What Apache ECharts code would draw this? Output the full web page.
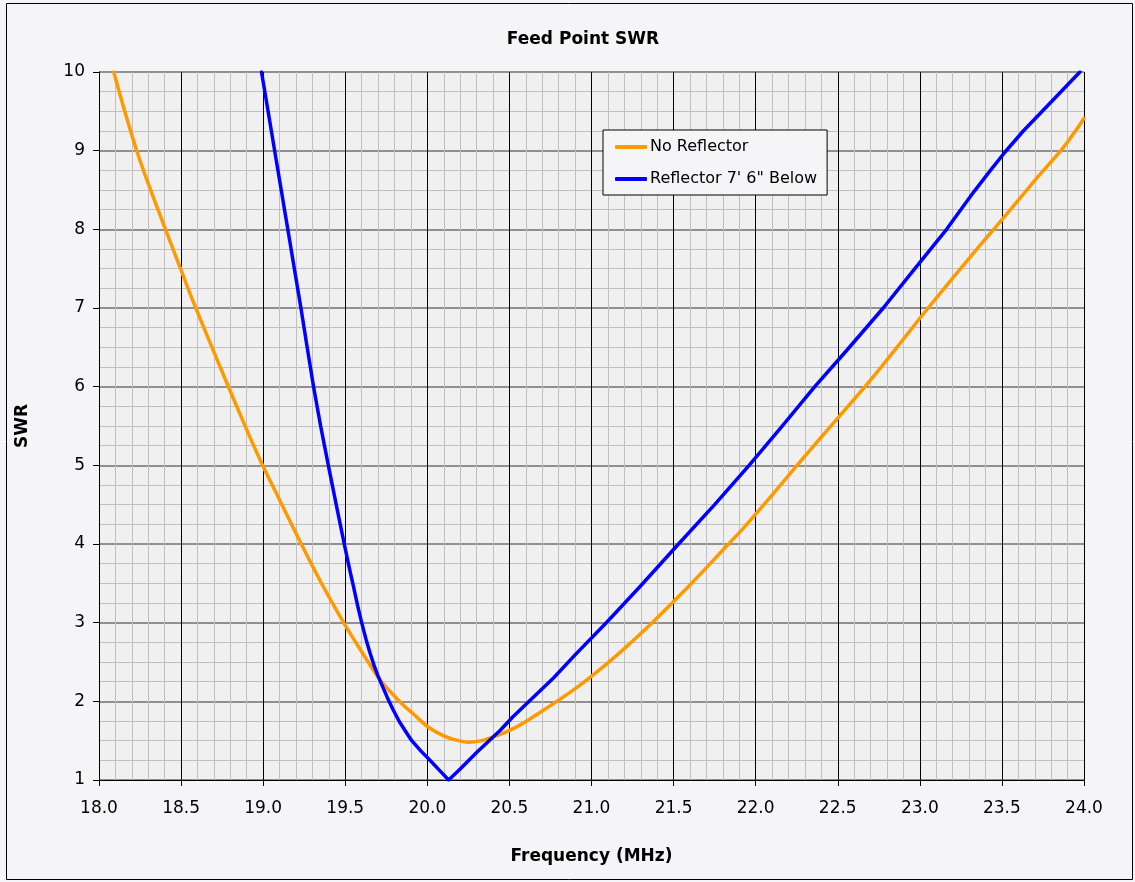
<!DOCTYPE html>
<html>
<head>
<meta charset="utf-8">
<script src="https://cdn.jsdelivr.net/npm/echarts@6/dist/echarts.min.js"></script>
<style>
html,body{margin:0;padding:0;background:#F5F5F7;}
#c{width:1135px;height:882px;}
</style>
</head>
<body>
<div id="c"></div>
<script>
const seriesNames = ['No Reflector', 'Reflector 7\' 6" Below'];
const xTicks = { min: 18, max: 24, step: 0.5 };
const yTicks = { min: 1, max: 10, step: 1 };

const noReflector = [
  [18.09,10.0],[18.15,9.55],[18.23,9.0],[18.3,8.58],[18.41,7.97],[18.5,7.48],[18.57,7.1],
  [18.68,6.54],[18.78,6.04],[18.9,5.45],[18.99,5.03],[19.1,4.56],[19.22,4.05],[19.35,3.52],
  [19.49,3.0],[19.6,2.63],[19.72,2.25],[19.84,1.98],[19.92,1.83],[20.0,1.68],[20.1,1.56],
  [20.17,1.51],[20.25,1.48],[20.33,1.5],[20.42,1.56],[20.52,1.65],[20.62,1.77],[20.76,1.96],
  [20.88,2.13],[20.97,2.27],[21.1,2.49],[21.2,2.67],[21.36,2.98],[21.5,3.27],[21.6,3.48],[21.7,3.7],
  [21.83,3.99],[21.92,4.19],[22.0,4.38],[22.1,4.62],[22.24,4.97],[22.4,5.36],[22.5,5.6],
  [22.67,6.01],[22.8,6.34],[23.0,6.87],[23.2,7.38],[23.36,7.78],[23.45,8.0],
  [23.6,8.37],[23.72,8.67],[23.87,9.03],[24.0,9.41]
];
const withReflector = [
  [18.99,10.0],[19.03,9.5],[19.07,9.0],[19.11,8.5],[19.15,8.0],[19.19,7.5],[19.23,7.0],
  [19.268,6.5],[19.307,6.0],[19.35,5.5],[19.397,5.0],[19.445,4.5],[19.494,4.0],[19.52,3.74],
  [19.55,3.46],[19.575,3.22],[19.6,3.0],[19.625,2.8],[19.65,2.62],[19.675,2.46],[19.7,2.32],
  [19.725,2.2],[19.756,2.05],[19.79,1.9],[19.83,1.74],[19.87,1.61],[19.905,1.5],[19.96,1.37],
  [20.016,1.25],[20.08,1.11],[20.13,1.0],[20.2,1.14],[20.3,1.35],[20.443,1.63],[20.52,1.8],
  [20.62,2.0],[20.77,2.3],[20.9,2.59],[21.09,3.0],[21.3,3.47],[21.53,4.0],[21.75,4.5],
  [21.96,5.0],[22.15,5.47],[22.36,6.0],[22.55,6.45],[22.777,7.0],[22.95,7.45],[23.163,8.0],
  [23.33,8.48],[23.43,8.75],[23.518,8.98],[23.63,9.25],[23.75,9.51],[23.975,10.0]
];

const FONT = 'DejaVu Sans, Verdana, sans-serif';
const chart = echarts.init(document.getElementById('c'));
chart.setOption({
  backgroundColor: '#F5F5F7',
  animation: false,
  title: {
    text: 'Feed Point SWR',
    left: 578, top: 26, textAlign: 'center',
    textStyle: { fontFamily: FONT, fontSize: 17, fontWeight: 'bold', color: '#000' }
  },
  graphic: [{
    type: 'rect', silent: true,
    shape: { x: 6.5, y: 3.5, width: 1126, height: 876 },
    style: { fill: 'none', stroke: '#000', lineWidth: 1 }
  }],
  legend: {
    orient: 'vertical', left: 603, top: 130,
    padding: [9, 10, 8, 12], itemGap: 16, itemWidth: 32, itemHeight: 4,
    icon: 'roundRect',
    backgroundColor: '#F5F5F7', borderColor: '#000', borderWidth: 1,
    textStyle: { fontFamily: FONT, fontSize: 16, color: '#000', padding: [0, 0, 0, -2] },
    data: seriesNames
  },
  grid: { left: 99, right: 51, top: 72, bottom: 102, show: true, backgroundColor: '#F0F0F0', borderWidth: 0 },
  xAxis: {
    type: 'value', min: xTicks.min, max: xTicks.max, interval: xTicks.step,
    name: 'Frequency (MHz)', nameLocation: 'middle', nameGap: 68,
    nameTextStyle: { fontFamily: FONT, fontSize: 17, fontWeight: 'bold', color: '#000' },
    axisLine: { show: true, lineStyle: { color: '#000', width: 1 } },
    axisTick: { show: true, length: 6, lineStyle: { color: '#000' } },
    axisLabel: { fontFamily: FONT, fontSize: 17, color: '#000', margin: 20, formatter: v => v.toFixed(1) },
    splitLine: { show: true, lineStyle: { color: '#000', width: 1 } },
    minorSplitLine: { show: true, lineStyle: { color: '#C0C0C0', width: 1 } },
    minorTick: { show: false, splitNumber: 5 }
  },
  yAxis: {
    type: 'value', min: yTicks.min, max: yTicks.max, interval: yTicks.step,
    name: 'SWR', nameLocation: 'middle', nameGap: 68, nameRotate: 90,
    nameTextStyle: { fontFamily: FONT, fontSize: 17, fontWeight: 'bold', color: '#000' },
    axisLine: { show: true, lineStyle: { color: '#000', width: 1 } },
    axisTick: { show: true, length: 6, lineStyle: { color: '#000' } },
    axisLabel: { fontFamily: FONT, fontSize: 17, color: '#000', margin: 14 },
    splitLine: { show: true, lineStyle: { color: '#707070', width: 1.5 } },
    minorSplitLine: { show: true, lineStyle: { color: '#C0C0C0', width: 1 } },
    minorTick: { show: false, splitNumber: 4 }
  },
  series: [
    {
      name: seriesNames[0], type: 'line', data: noReflector, symbol: 'none', smooth: 0.25,
      lineStyle: { color: '#FF9900', width: 3.5, cap: 'round', join: 'round' }, itemStyle: { color: '#FF9900' },
      clip: true, z: 3
    },
    {
      name: seriesNames[1], type: 'line', data: withReflector, symbol: 'none', smooth: false,
      lineStyle: { color: '#0000FF', width: 3.5, cap: 'round', join: 'round' }, itemStyle: { color: '#0000FF' },
      clip: true, z: 4
    }
  ]
});
</script>
</body>
</html>
